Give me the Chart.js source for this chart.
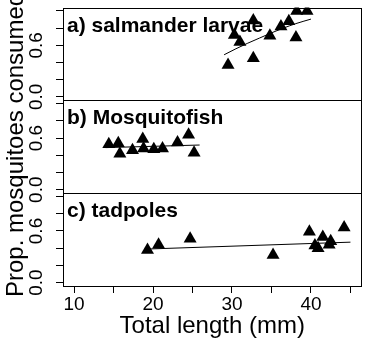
<!DOCTYPE html>
<html>
<head>
<meta charset="utf-8">
<script src="https://cdn.jsdelivr.net/npm/chart.js@4.4.1/dist/chart.umd.min.js"></script>
<style>
html, body { margin: 0; padding: 0; background: #fff; }
</style>
</head>
<body>
<canvas id="chart" width="369" height="350"></canvas>
<script>
// Data
const salLength = [29.5, 32.7, 30.3, 31.0, 32.7, 34.8, 36.2, 37.2, 38.1, 38.2, 39.5];
const salProp   = [0.37, 0.45, 0.72, 0.64, 0.89, 0.71, 0.82, 0.88, 0.69, 1.0, 1.0];
const salFitX   = [29, 30.5, 32, 33.5, 35, 36.5, 38, 40];
const salFitY   = [0.49, 0.56, 0.625, 0.685, 0.745, 0.80, 0.85, 0.905];

const fishLength = [14.4, 15.6, 15.8, 17.4, 18.7, 18.8, 20.1, 21.2, 23.1, 24.5, 25.2];
const fishProp   = [0.53, 0.54, 0.42, 0.46, 0.59, 0.48, 0.47, 0.48, 0.55, 0.64, 0.43];
const fishFitX   = [14.0, 25.9];
const fishFitY   = [0.49, 0.52];

const tadLength = [19.3, 20.7, 24.7, 35.2, 39.8, 41.5, 40.5, 40.9, 42.3, 42.5, 44.2];
const tadProp   = [0.38, 0.44, 0.51, 0.32, 0.59, 0.53, 0.43, 0.40, 0.44, 0.48, 0.64];
const tadFitX   = [19.3, 45.0];
const tadFitY   = [0.39, 0.47];

const panelLabels = ['a) salmander larvae', 'b) Mosquitofish', 'c) tadpoles'];
const panelIds = ['ya', 'yb', 'yc'];

const xTicks = [10, 15, 20, 25, 30, 35, 40, 45];
const xLabels = [10, 20, 30, 40];
const yTicks = [0, 0.2, 0.4, 0.6, 0.8, 1.0];
const yLabels = [0, 0.6];

const FONT = '"Liberation Sans", Arial, sans-serif';

function pts(xs, ys) {
    return xs.map((x, i) => ({ x: x, y: ys[i] }));
}

function pointSet(xs, ys, axis) {
    return {
        type: 'scatter',
        data: pts(xs, ys),
        yAxisID: axis,
        pointStyle: 'triangle',
        pointRadius: 7.5,
        backgroundColor: '#000',
        borderWidth: 0
    };
}

function fitSet(xs, ys, axis) {
    return {
        type: 'line',
        data: pts(xs, ys),
        yAxisID: axis,
        borderColor: '#000',
        borderWidth: 1,
        pointRadius: 0,
        cubicInterpolationMode: 'monotone',
        fill: false
    };
}

function yScale(weight) {
    return {
        type: 'linear',
        position: 'left',
        stack: 'panels',
        stackWeight: 1,
        weight: weight,
        min: -0.04,
        max: 1.04,
        afterBuildTicks: s => { s.ticks = yTicks.map(v => ({ value: v })); },
        afterFit: s => { s.width = 63; },
        ticks: { display: false },
        grid: { drawOnChartArea: false, drawTicks: true, tickLength: 7, color: '#000' },
        border: { display: false }
    };
}

// Frames, panel captions, rotated y labels and axis titles
const panelPlugin = {
    id: 'panels',
    beforeDatasetsDraw(chart) {
        const { ctx, chartArea } = chart;
        const left = Math.round(chartArea.left) + 0.5;
        const right = Math.round(chartArea.right) - 0.5;
        ctx.save();
        ctx.strokeStyle = '#000';
        ctx.lineWidth = 1;
        ctx.fillStyle = '#000';
        ctx.font = 'bold 21px ' + FONT;
        ctx.textAlign = 'left';
        ctx.textBaseline = 'alphabetic';
        panelIds.forEach((id, i) => {
            const s = chart.scales[id];
            const top = Math.round(s.top) + 0.5;
            const bottom = Math.round(s.bottom) + 0.5;
            ctx.strokeRect(left, top, right - left, bottom - top);
            ctx.fillText(panelLabels[i], chartArea.left + 4, s.top + 24);
        });
        ctx.restore();
    },
    afterDraw(chart) {
        const { ctx } = chart;
        ctx.save();
        ctx.fillStyle = '#000';
        ctx.font = '19px ' + FONT;
        ctx.textAlign = 'center';
        ctx.textBaseline = 'alphabetic';
        panelIds.forEach(id => {
            const s = chart.scales[id];
            yLabels.forEach(v => {
                ctx.save();
                ctx.translate(42, s.getPixelForValue(v));
                ctx.rotate(-Math.PI / 2);
                ctx.fillText(v.toFixed(1), 0, 0);
                ctx.restore();
            });
        });
        // y title
        ctx.save();
        ctx.font = '24px ' + FONT;
        ctx.textAlign = 'left';
        ctx.translate(23, 297);
        ctx.rotate(-Math.PI / 2);
        ctx.fillText('Prop. mosquitoes consumed', 0, 0);
        ctx.restore();
        // x title
        ctx.font = '24px ' + FONT;
        ctx.textAlign = 'center';
        ctx.fillText('Total length (mm)', (chart.chartArea.left + chart.chartArea.right) / 2, 333);
        ctx.restore();
    }
};

new Chart(document.getElementById('chart'), {
    type: 'scatter',
    data: {
        datasets: [
            pointSet(salLength, salProp, 'ya'),
            fitSet(salFitX, salFitY, 'ya'),
            pointSet(fishLength, fishProp, 'yb'),
            fitSet(fishFitX, fishFitY, 'yb'),
            pointSet(tadLength, tadProp, 'yc'),
            fitSet(tadFitX, tadFitY, 'yc')
        ]
    },
    options: {
        responsive: false,
        animation: false,
        layout: { padding: { top: 5, right: 7, left: 0, bottom: 0 } },
        plugins: { legend: { display: false }, tooltip: { enabled: false } },
        scales: {
            x: {
                type: 'linear',
                position: 'bottom',
                min: 8.6,
                max: 46.4,
                afterBuildTicks: s => { s.ticks = xTicks.map(v => ({ value: v })); },
                afterFit: s => { s.height = 64; },
                ticks: {
                    autoSkip: false,
                    maxRotation: 0,
                    padding: 0,
                    color: '#000',
                    font: { family: FONT, size: 19 },
                    callback: v => xLabels.includes(v) ? String(v) : ''
                },
                grid: { drawOnChartArea: false, drawTicks: true, tickLength: 7, color: '#000' },
                border: { display: false }
            },
            ya: yScale(3),
            yb: yScale(2),
            yc: yScale(1)
        }
    },
    plugins: [panelPlugin]
});
</script>
</body>
</html>
